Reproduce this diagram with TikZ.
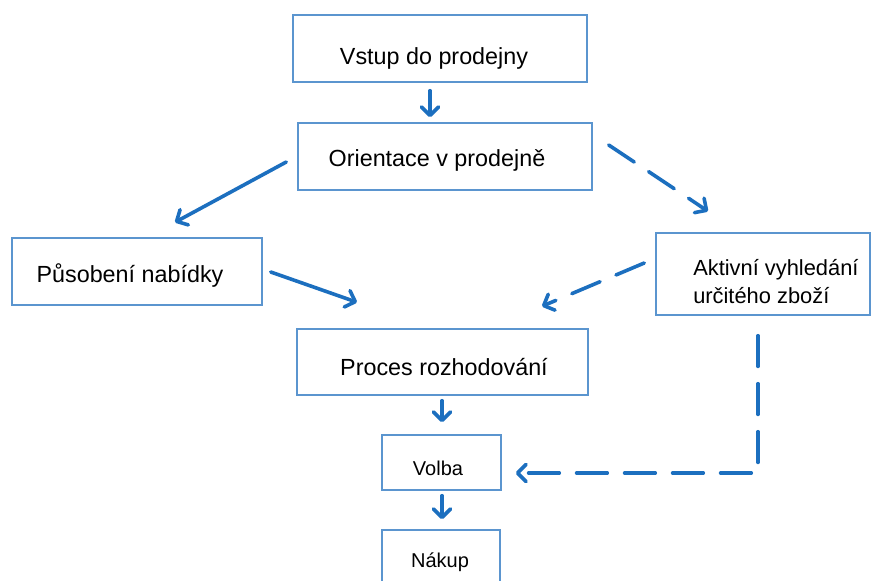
\documentclass[tikz,border=0pt]{standalone}
\usepackage{fontspec}
\setmainfont{Liberation Sans}
\usetikzlibrary{arrows.meta}
\definecolor{arrblue}{HTML}{1C6FBF}
\definecolor{boxblue}{HTML}{5B95CF}
\begin{document}
\begin{tikzpicture}[x=0.75pt,y=-0.75pt,
  box/.style={draw=boxblue, line width=1.1pt, inner sep=0pt, fill=white},
  txt/.style={inner sep=0pt, anchor=base, font=\fontsize{17.5}{21}\selectfont},
  stxt/.style={inner sep=0pt, anchor=base, font=\fontsize{15}{18}\selectfont},
  atxt/.style={inner sep=0pt, anchor=base west, font=\fontsize{16.4}{20}\selectfont},
  arr/.style={draw=arrblue, line width=2.7pt, line cap=round,
    -{Straight Barb[length=6.5pt,width=13pt,round]}},
  darr/.style={arr, dash pattern=on 23pt off 13pt}]
\clip (0,0) rectangle (872,581);
\fill[white] (0,0) rectangle (872,581);
% boxes
\node[box, minimum width=294*0.75pt, minimum height=67*0.75pt] (vstup) at (440,48.5) {};
\node[box, minimum width=294*0.75pt, minimum height=67*0.75pt] (orient) at (445,156.5) {};
\node[box, minimum width=250*0.75pt, minimum height=67*0.75pt] (pusob) at (137,271.5) {};
\node[box, minimum width=214*0.75pt, minimum height=82*0.75pt] (aktiv) at (763,274) {};
\node[box, minimum width=291*0.75pt, minimum height=66*0.75pt] (proces) at (442.5,362) {};
\node[box, minimum width=119*0.75pt, minimum height=55*0.75pt] (volba) at (441.5,462.5) {};
\node[box, minimum width=118*0.75pt, minimum height=55*0.75pt] (nakup) at (441,557.5) {};
% texts
\node[txt] (t1) at (434,65) {Vstup do prodejny};
\node[txt] (t2) at (437,167) {Orientace v prodejně};
\node[txt] (t3) at (130,283) {Působení nabídky};
\node[atxt] (t4a) at (693,276) {Aktivní vyhledání};
\node[atxt] (t4b) at (693,304) {určitého zboží};
\node[txt] (t5) at (444,375) {Proces rozhodování};
\node[stxt] (t6) at (438,475) {Volba};
\node[stxt] (t7) at (440,567) {Nákup};
% connectors
\draw[arr] ([shift={(-10,8)}]vstup.south) -- ([shift={(-15,-5)}]orient.north);
\draw[arr] ([shift={(-11,5.5)}]orient.west) -- ([shift={(38,-15)}]pusob.north);
\draw[darr] ([shift={(16,-11.5)}]orient.east) -- ([shift={(-55,-21)}]aktiv.north);
\draw[arr] ([shift={(8,0.5)}]pusob.east) -- ([shift={(-85.5,-26)}]proces.north);
\draw[darr] ([shift={(-11,-11)}]aktiv.west) -- ([shift={(99.5,-22)}]proces.north);
\draw[arr] ([shift={(-0.5,5)}]proces.south) -- ([shift={(0.5,-12)}]volba.north);
\draw[arr] ([shift={(0.5,5)}]volba.south) -- ([shift={(1,-10)}]nakup.north);
\draw[darr] ([shift={(-5,20)}]aktiv.south) |- ([shift={(14,10.5)}]volba.east);
\end{tikzpicture}
\end{document}
